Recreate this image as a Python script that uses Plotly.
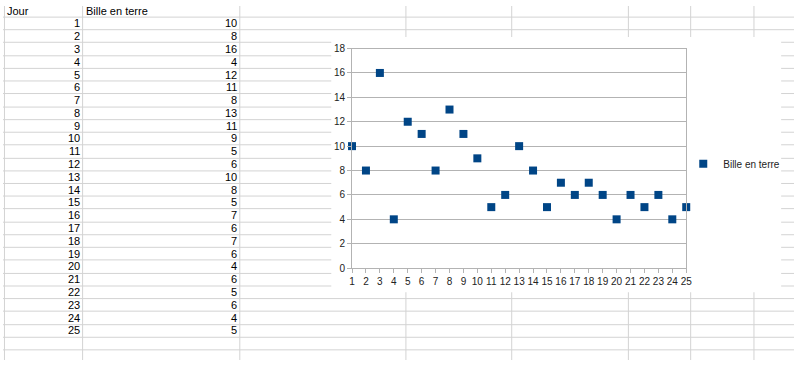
import plotly.graph_objects as go

# ---- data (read from the sheet / chart) ----
jours = [1, 2, 3, 4, 5, 6, 7, 8, 9, 10, 11, 12, 13, 14, 15, 16, 17, 18, 19, 20, 21, 22, 23, 24, 25]
billes = [10, 8, 16, 4, 12, 11, 8, 13, 11, 9, 5, 6, 10, 8, 5, 7, 6, 7, 6, 4, 6, 5, 6, 4, 5]
header_jour = "Jour"
header_bille = "Bille en terre"
series_name = "Bille en terre"

# ---- layout constants (pixels) ----
W, H = 800, 366
FONT = "Liberation Sans, Arial, sans-serif"
GRID_SHEET = "#d3d3d3"
col_lines = [1.5, 80.5, 239.5, 407.5, 514.5, 632.5, 695.5, 759.5]
row_first_line = 11.0
row_h = 13.23
n_row_lines = 27
chart_box = (332, 32, 787, 296)  # x0, y0, x1, y1 in px
plot_x = (353, 691)
plot_y = (271, 44)  # y at value 0, y at top


def fx(px):
    return px / W


def fy(py):
    return 1 - py / H


shapes = []
for cx in col_lines:
    shapes.append(dict(type="line", xref="paper", yref="paper",
                       x0=fx(cx), x1=fx(cx), y0=0, y1=1,
                       line=dict(color=GRID_SHEET, width=1), layer="below"))
for i in range(n_row_lines):
    ry = round(row_first_line + i * row_h) + 0.5
    if ry > H:
        break
    shapes.append(dict(type="line", xref="paper", yref="paper",
                       x0=0, x1=1, y0=fy(ry), y1=fy(ry),
                       line=dict(color=GRID_SHEET, width=1), layer="below"))
# white chart area covering the sheet grid
shapes.append(dict(type="rect", xref="paper", yref="paper",
                   x0=fx(chart_box[0]), x1=fx(chart_box[2]),
                   y0=fy(chart_box[3]), y1=fy(chart_box[1]),
                   fillcolor="white", line=dict(width=0), layer="below"))

annotations = []
cell_font = dict(family=FONT, size=11, color="#000000")
annotations.append(dict(xref="paper", yref="paper", x=fx(2), y=fy(5.5),
                        text=header_jour, showarrow=False, xanchor="left",
                        yanchor="middle", font=cell_font))
annotations.append(dict(xref="paper", yref="paper", x=fx(82), y=fy(5.5),
                        text=header_bille, showarrow=False, xanchor="left",
                        yanchor="middle", font=cell_font))
for i, (j, b) in enumerate(zip(jours, billes)):
    cy = row_first_line + i * row_h + row_h / 2 + 0.3
    annotations.append(dict(xref="paper", yref="paper", x=fx(79.5), y=fy(cy),
                            text=str(j), showarrow=False, xanchor="right",
                            yanchor="middle", font=cell_font))
    annotations.append(dict(xref="paper", yref="paper", x=fx(239), y=fy(cy),
                            text=str(b), showarrow=False, xanchor="right",
                            yanchor="middle", font=cell_font))

fig = go.Figure()
fig.add_trace(go.Scatter(
    x=jours, y=billes, mode="markers", name=series_name,
    marker=dict(symbol="square", size=8, color="#004586"),
    cliponaxis=False, showlegend=True,
))

axis_col = "#b3b3b3"
tick_font = dict(family=FONT, size=10, color="#222222")
fig.update_layout(
    width=W, height=H, autosize=False,
    margin=dict(l=0, r=0, t=0, b=0, pad=0),
    paper_bgcolor="white", plot_bgcolor="rgba(0,0,0,0)",
    shapes=shapes, annotations=annotations,
    xaxis=dict(domain=[fx(plot_x[0]), fx(plot_x[1])], range=[1, 25],
               tick0=1, dtick=1, showgrid=False, zeroline=False,
               showline=True, linecolor=axis_col, linewidth=1, mirror=True,
               ticks="outside", ticklen=4, tickcolor=axis_col,
               tickfont=tick_font, fixedrange=True),
    yaxis=dict(domain=[fy(plot_y[0]), fy(plot_y[1])], range=[0, 18],
               tick0=0, dtick=2, showgrid=True, gridcolor=axis_col,
               gridwidth=1, zeroline=False,
               showline=True, linecolor=axis_col, linewidth=1, mirror=True,
               ticks="outside", ticklen=4, tickcolor=axis_col,
               tickfont=tick_font, fixedrange=True),
    showlegend=True,
    legend=dict(x=fx(688), y=fy(163), xanchor="left", yanchor="middle",
                bgcolor="rgba(0,0,0,0)", borderwidth=0,
                font=dict(family=FONT, size=10, color="#222222"),
                itemwidth=30),
)

fig.write_html(
    "out.html",
    post_script="document.documentElement.style.margin='0';"
                "document.body.style.margin='0';"
                "document.body.style.padding='0';"
                "document.body.style.overflow='hidden';",
)
